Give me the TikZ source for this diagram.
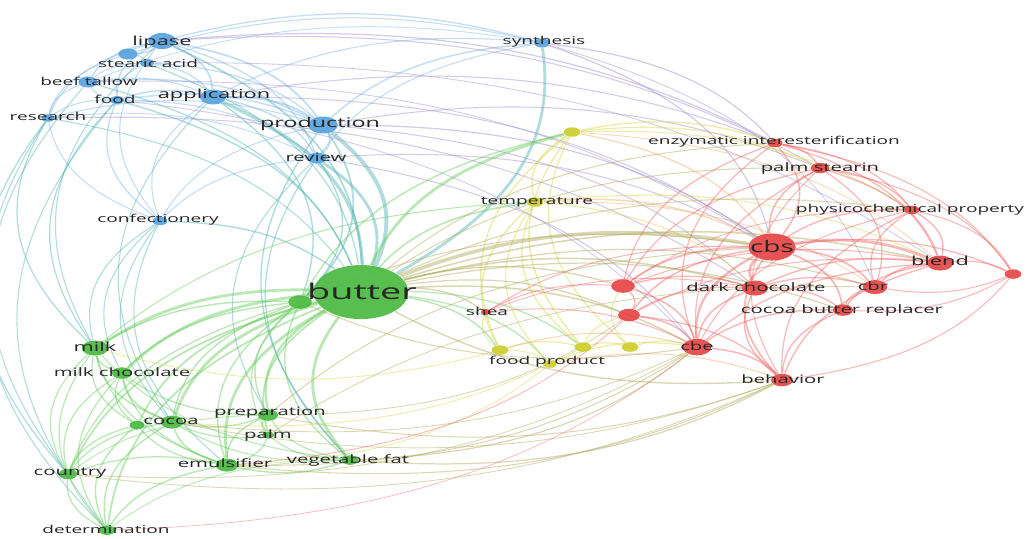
\documentclass[tikz,border=0pt]{standalone}
\usepackage{fontspec}
\setmainfont{Open Sans}
\usetikzlibrary{backgrounds}

\definecolor{vblue}{RGB}{84,160,222}
\definecolor{vgreen}{RGB}{72,184,62}
\definecolor{vyellow}{RGB}{205,205,40}
\definecolor{vred}{RGB}{230,65,65}
\definecolor{lblue}{RGB}{120,180,232}
\definecolor{lgreen}{RGB}{100,205,90}
\definecolor{lteal}{RGB}{80,178,180}
\definecolor{lpurple}{RGB}{160,140,205}
\definecolor{lyellow}{RGB}{215,215,70}
\definecolor{lred}{RGB}{242,100,100}
\definecolor{lolive}{RGB}{175,170,90}
\definecolor{lorange}{RGB}{240,170,100}

\tikzset{
  bub/.style={circle, inner sep=0pt, fill=#1, fill opacity=0.9},
  lbl/.style={inner sep=0pt, text=black!85, font=\fontsize{6.2}{7}\selectfont},
  lblS/.style={lbl, font=\fontsize{6.6}{7.5}\selectfont},
  lblM/.style={lbl, font=\fontsize{7.1}{8}\selectfont},
  lnk/.style={draw=#1, draw opacity=0.45, bend left=25},
}

\begin{document}
\begin{tikzpicture}[x=0.0114286cm, y=-0.02cm, xscale=1.75, every node/.style={transform shape}]
    \useasboundingbox (0,0) rectangle (1027,538);

    % blue cluster
    \node[bub=vblue, minimum size=0.32cm] (lipase) at (162,41) {};
    \node[bub=vblue, minimum size=0.22cm] (bu1) at (128,54) {};
    \node[bub=vblue, minimum size=0.16cm] (stearic) at (147,63) {};
    \node[bub=vblue, minimum size=0.22cm] (beef) at (88,82) {};
    \node[bub=vblue, minimum size=0.16cm] (food) at (117,100) {};
    \node[bub=vblue, minimum size=0.15cm] (research) at (48,118) {};
    \node[bub=vblue, minimum size=0.30cm] (application) at (213,97) {};
    \node[bub=vblue, minimum size=0.34cm] (production) at (323,125) {};
    \node[bub=vblue, minimum size=0.22cm] (review) at (317,158) {};
    \node[bub=vblue, minimum size=0.18cm] (synthesis) at (542,43) {};
    \node[bub=vblue, minimum size=0.17cm] (confect) at (160,221) {};

    % green cluster
    \node[bub=vgreen, minimum size=1.08cm] (butter) at (361,292) {};
    \node[bub=vgreen, minimum size=0.27cm] (gA) at (300,302) {};
    \node[bub=vgreen, minimum size=0.30cm] (milk) at (95,348) {};
    \node[bub=vgreen, minimum size=0.23cm] (milkchoc) at (122,373) {};
    \node[bub=vgreen, minimum size=0.17cm] (cocoaA) at (137,425) {};
    \node[bub=vgreen, minimum size=0.26cm] (cocoa) at (172,422) {};
    \node[bub=vgreen, minimum size=0.23cm] (prep) at (268,415) {};
    \node[bub=vgreen, minimum size=0.14cm] (palm) at (268,435) {};
    \node[bub=vgreen, minimum size=0.26cm] (emuls) at (227,465) {};
    \node[bub=vgreen, minimum size=0.19cm] (vegfat) at (350,460) {};
    \node[bub=vgreen, minimum size=0.21cm] (country) at (68,474) {};
    \node[bub=vgreen, minimum size=0.19cm] (determ) at (107,530) {};

    % yellow cluster
    \node[bub=vyellow, minimum size=0.19cm] (yA) at (572,132) {};
    \node[bub=vyellow, minimum size=0.19cm] (temp) at (535,202) {};
    \node[bub=vyellow, minimum size=0.19cm] (fpA) at (500,350) {};
    \node[bub=vyellow, minimum size=0.19cm] (fpB) at (583,347) {};
    \node[bub=vyellow, minimum size=0.19cm] (fpC) at (630,347) {};
    \node[bub=vyellow, minimum size=0.15cm] (fprod) at (550,364) {};

    % red cluster
    \node[bub=vred, minimum size=0.12cm] (shea) at (486,312) {};
    \node[bub=vred, minimum size=0.54cm] (cbs) at (772,247) {};
    \node[bub=vred, minimum size=0.30cm] (blend) at (940,263) {};
    \node[bub=vred, minimum size=0.30cm] (darkchoc) at (755,288) {};
    \node[bub=vred, minimum size=0.28cm] (cbr) at (875,287) {};
    \node[bub=vred, minimum size=0.23cm] (cbrepl) at (843,310) {};
    \node[bub=vred, minimum size=0.33cm] (cbe) at (697,347) {};
    \node[bub=vred, minimum size=0.25cm] (behavior) at (782,380) {};
    \node[bub=vred, minimum size=0.17cm] (enzym) at (775,143) {};
    \node[bub=vred, minimum size=0.21cm] (palmst) at (820,168) {};
    \node[bub=vred, minimum size=0.17cm] (physico) at (912,210) {};
    \node[bub=vred, minimum size=0.19cm] (rA) at (1013,274) {};
    \node[bub=vred, minimum size=0.27cm] (rB) at (623,286) {};
    \node[bub=vred, minimum size=0.25cm] (rC) at (629,315) {};

    \begin{scope}[on background layer]
        \fill[white] (0,0) rectangle (1027,538);
        \foreach \a/\b/\w in {lipase/bu1/0.8, bu1/stearic/0.6, beef/lipase/0.8, food/lipase/0.8, lipase/application/1.0,
            lipase/production/1.0, lipase/review/0.7, lipase/synthesis/0.7, research/lipase/0.6, confect/lipase/0.6,
            beef/stearic/0.6, food/stearic/0.6, stearic/application/0.7, stearic/production/0.7, research/bu1/0.6,
            research/beef/0.6, food/beef/0.6, beef/application/0.6, beef/production/0.7, research/food/0.6,
            food/application/0.8, food/production/0.8, confect/food/0.7, food/review/0.6, research/production/0.6,
            confect/research/0.6, research/review/0.5, application/production/1.2, application/review/0.8,
            application/synthesis/0.6, confect/application/0.6, production/review/1.0, production/synthesis/0.8,
            review/synthesis/0.6, confect/production/0.6, confect/review/0.6, bu1/synthesis/0.6, beef/synthesis/0.5}
            \draw[lnk=lblue, line width=\w pt] (\a) to (\b);
        \foreach \a/\b/\w in {production/butter/2.2, application/butter/1.8, review/butter/1.6, lipase/butter/1.0,
            synthesis/butter/1.6, food/butter/0.8, stearic/butter/0.7, beef/butter/0.7, research/butter/0.6,
            confect/butter/0.8, country/research/0.7, country/beef/0.6, milk/food/0.7, milk/research/0.7,
            milk/confect/0.6, cocoa/confect/0.6, milkchoc/confect/0.6, determ/food/0.6, emuls/confect/0.6,
            production/gA/1.0, review/gA/0.8, application/gA/0.8, prep/review/0.6, vegfat/review/0.7,
            vegfat/production/0.8, cocoa/application/0.6, milk/lipase/0.6, determ/research/0.6}
            \draw[lnk=lteal, line width=\w pt] (\a) to (\b);
        \foreach \a/\b/\w in {production/cbs/0.7, application/cbs/0.6, review/cbe/0.6, research/darkchoc/0.6,
            lipase/enzym/0.7, application/enzym/0.6, production/palmst/0.6, stearic/blend/0.5, food/cbe/0.5,
            synthesis/enzym/0.7, synthesis/cbs/0.7, production/darkchoc/0.6, lipase/palmst/0.6, review/cbs/0.6,
            synthesis/cbr/0.5, beef/cbs/0.5}
            \draw[lnk=lpurple, line width=\w pt] (\a) to (\b);
        \foreach \a/\b/\w in {gA/butter/2.2, milk/butter/1.6, milkchoc/butter/1.6, cocoa/butter/1.6, cocoaA/butter/1.0,
            prep/butter/1.3, palm/butter/1.0, emuls/butter/1.6, vegfat/butter/1.6, country/butter/1.0,
            determ/butter/1.0, milk/gA/0.8, milkchoc/gA/0.8, cocoa/gA/0.8, emuls/gA/0.8, country/gA/0.7,
            milkchoc/milk/0.8, cocoa/milk/0.8, cocoaA/milk/0.7, country/milk/0.7, determ/milk/0.7, emuls/milk/0.7,
            cocoa/milkchoc/0.8, cocoaA/milkchoc/0.7, country/milkchoc/0.7, determ/milkchoc/0.7, prep/milkchoc/0.7,
            emuls/milkchoc/0.7, prep/cocoa/0.7, emuls/cocoa/0.9, palm/cocoa/0.7, country/cocoaA/0.7, determ/cocoaA/0.8,
            emuls/cocoaA/0.7, emuls/prep/0.8, palm/prep/0.7, vegfat/emuls/0.8, country/emuls/0.7, determ/emuls/0.8,
            determ/country/0.7, vegfat/prep/0.7, vegfat/cocoa/0.6, vegfat/gA/0.8, prep/gA/0.8, vegfat/milk/0.6,
            palm/gA/0.7, palm/emuls/0.7, vegfat/palm/0.6, country/cocoa/0.7, determ/cocoa/0.8, country/prep/0.5,
            determ/vegfat/0.5, butter/temp/0.9, butter/yA/1.6, gA/yA/0.8, butter/fpA/0.8, butter/fprod/0.7,
            milk/temp/0.6, butter/fpB/0.7}
            \draw[lnk=lgreen, line width=\w pt] (\a) to (\b);
        \foreach \a/\b/\w in {temp/yA/0.9, fpA/yA/0.8, fpB/yA/0.8, fpC/yA/0.7, yA/enzym/0.8, yA/palmst/0.7,
            yA/physico/0.6, fpA/temp/0.8, fpB/temp/0.8, fprod/temp/0.7, fpA/fpB/0.7, fpB/fpC/0.7, fpA/fprod/0.6,
            fpC/cbe/0.7, fprod/cbe/0.7, temp/blend/0.6, temp/darkchoc/0.6, fpB/rC/0.6, fpC/rB/0.6, fpA/shea/0.6,
            fpA/milk/0.5, fprod/emuls/0.5, fpB/cocoa/0.5}
            \draw[lnk=lyellow, line width=\w pt] (\a) to (\b);
        \foreach \a/\b/\w in {temp/cbs/0.8, yA/cbs/0.7, fpA/cbe/0.6, fprod/behavior/0.6, temp/cbr/0.5, yA/blend/0.5}
            \draw[lnk=lorange, line width=\w pt] (\a) to (\b);
        \foreach \a/\b/\w in {butter/cbs/2.0, butter/blend/0.9, butter/darkchoc/0.9, butter/cbe/0.9, butter/shea/0.8,
            butter/rB/0.8, butter/rC/0.7, butter/cbrepl/0.7, butter/cbr/0.7, butter/physico/0.6, butter/palmst/0.6,
            butter/enzym/0.6, gA/cbs/0.6, behavior/butter/0.8, behavior/emuls/0.6, cbe/vegfat/0.7, behavior/vegfat/0.7,
            cbe/emuls/0.6, behavior/prep/0.6, cbe/country/0.5, prep/cbs/0.6, palm/cbr/0.5, cbe/gA/0.6, rC/prep/0.5,
            behavior/country/0.5, behavior/cocoa/0.5, cbe/cocoa/0.5}
            \draw[lnk=lolive, line width=\w pt] (\a) to (\b);
        \foreach \a/\b/\w in {cbs/blend/1.6, darkchoc/cbs/1.6, cbs/cbr/1.0, cbs/cbrepl/1.0, cbe/cbs/1.3, behavior/cbs/1.0,
            enzym/cbs/0.9, cbs/palmst/0.9, cbs/physico/0.8, cbs/rA/0.7, rB/cbs/1.0, rC/cbs/0.9, physico/blend/0.8,
            palmst/blend/0.8, cbr/blend/0.9, cbrepl/blend/0.8, blend/rA/0.7, darkchoc/blend/0.8, behavior/blend/0.8,
            enzym/blend/0.7, cbe/blend/0.7, darkchoc/cbr/0.8, darkchoc/cbrepl/0.8, cbe/darkchoc/0.9, rB/darkchoc/0.8,
            cbrepl/cbr/0.8, cbr/physico/0.7, palmst/cbr/0.7, cbe/cbrepl/0.8, behavior/cbrepl/0.8, rB/cbe/0.9,
            rC/cbe/0.9, cbe/behavior/0.9, rB/rC/0.8, rB/enzym/0.7, rC/behavior/0.7, enzym/palmst/0.8,
            enzym/physico/0.7, enzym/rA/0.6, palmst/physico/0.7, palmst/rA/0.6, physico/rA/0.6, rA/behavior/0.6,
            rA/cbrepl/0.6, rA/cbr/0.6, shea/rB/0.6, shea/cbe/0.6, shea/cbs/0.6, cbe/enzym/0.7, cbe/palmst/0.7,
            cbe/physico/0.6, behavior/physico/0.7, rC/darkchoc/0.7, rB/palmst/0.7, shea/darkchoc/0.5, rB/blend/0.6,
            rC/blend/0.6, behavior/darkchoc/0.8, rB/physico/0.5, behavior/palmst/0.6, rC/emuls/0.5, cbe/determ/0.4}
            \draw[lnk=lred, line width=\w pt] (\a) to (\b);
    \end{scope}

    \node[lblM] (lipase-t) at (162,42) {lipase};
    \node[lbl] (stearic-t) at (148,63) {stearic acid};
    \node[lbl] (beef-t) at (89,81) {beef tallow};
    \node[lbl] (food-t) at (115,99) {food};
    \node[lbl] (research-t) at (48,116) {research};
    \node[lblM] (application-t) at (214,95) {application};
    \node[lbl, font=\fontsize{7.6}{9}\selectfont] (production-t) at (320,124) {production};
    \node[lblS] (review-t) at (316,157) {review};
    \node[lbl] (synthesis-t) at (544,42) {synthesis};
    \node[lbl] (confect-t) at (158,220) {confectionery};

    \node[lbl, font=\fontsize{12.3}{14}\selectfont] (butter-t) at (362,291) {butter};
    \node[lblM] (milk-t) at (95,347) {milk};
    \node[lblS] (milkchoc-t) at (122,372) {milk chocolate};
    \node[lblS] (cocoa-t) at (171,421) {cocoa};
    \node[lblS] (prep-t) at (270,413) {preparation};
    \node[lblS] (palm-t) at (268,435) {palm};
    \node[lblS] (emuls-t) at (225,463) {emulsifier};
    \node[lblS] (vegfat-t) at (348,460) {vegetable fat};
    \node[lblS] (country-t) at (70,473) {country};
    \node[lbl] (determ-t) at (106,529) {determination};

    \node[lbl] (temp-t) at (537,202) {temperature};
    \node[lbl] (fprod-t) at (547,362) {food product};
    \node[lbl] (shea-t) at (487,311) {shea};

    \node[lbl, font=\fontsize{9.1}{11}\selectfont] (cbs-t) at (772,246) {cbs};
    \node[lblM] (blend-t) at (940,261) {blend};
    \node[lblS] (darkchoc-t) at (756,287) {dark chocolate};
    \node[lblS] (cbr-t) at (873,286) {cbr};
    \node[lblS] (cbrepl-t) at (842,310) {cocoa butter replacer};
    \node[lblS] (cbe-t) at (697,346) {cbe};
    \node[lblS] (behavior-t) at (783,379) {behavior};
    \node[lbl] (enzym-t) at (774,142) {enzymatic interesterification};
    \node[lblS] (palmst-t) at (820,168) {palm stearin};
    \node[lbl] (physico-t) at (910,210) {physicochemical property};
\end{tikzpicture}
\end{document}
